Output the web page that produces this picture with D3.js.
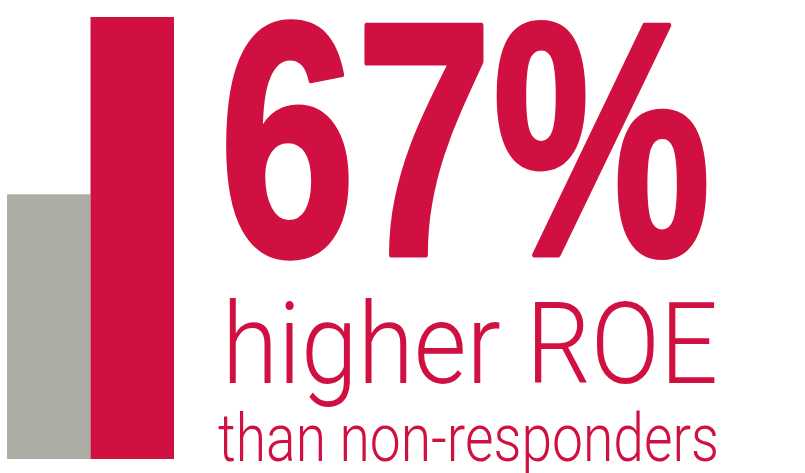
<!DOCTYPE html>
<html>
<head>
<meta charset="utf-8">
<script src="https://cdn.jsdelivr.net/npm/d3@7"></script>
<style>
  html, body { margin: 0; padding: 0; background: #fff; }
  svg { display: block; }
</style>
</head>
<body>
<svg id="chart" width="805" height="473"></svg>
<script>
// Relative ROE: non-responders indexed to 1, responders 67% higher
const categories = ["Non-responders", "Responders"];
const values = [1, 1.67];
const colors = ["#abaea5", "#d01040"];
const headline = "67%";
const subline1 = "higher ROE";
const subline2 = "than non-responders";

const svg = d3.select("#chart");

const x = d3.scaleBand()
  .domain(categories)
  .range([7, 174])
  .padding(0);

const y = d3.scaleLinear()
  .domain([0, d3.max(values)])
  .range([459, 17]);

svg.append("g")
  .selectAll("rect")
  .data(categories)
  .join("rect")
  .attr("x", d => x(d))
  .attr("width", x.bandwidth())
  .attr("y", (d, i) => y(values[i]))
  .attr("height", (d, i) => y(0) - y(values[i]))
  .attr("fill", (d, i) => colors[i]);

const red = colors[1];

// Heavy condensed headline: bold face squeezed to width, with a thin stroke for extra weight
svg.append("text")
  .attr("x", 219)
  .attr("y", 255)
  .attr("fill", red)
  .attr("stroke", red)
  .attr("stroke-width", 5)
  .attr("stroke-linejoin", "round")
  .attr("font-family", "'Liberation Sans', Arial, sans-serif")
  .attr("font-weight", 700)
  .attr("font-size", 334)
  .attr("textLength", 492)
  .attr("lengthAdjust", "spacingAndGlyphs")
  .text(headline);

svg.append("text")
  .attr("x", 222)
  .attr("y", 383)
  .attr("fill", red)
  .attr("font-family", "Roboto, 'Open Sans', sans-serif")
  .attr("font-weight", 300)
  .attr("font-size", 114)
  .attr("textLength", 496)
  .attr("lengthAdjust", "spacingAndGlyphs")
  .text(subline1);

svg.append("text")
  .attr("x", 218)
  .attr("y", 461)
  .attr("fill", red)
  .attr("font-family", "Roboto, 'Open Sans', sans-serif")
  .attr("font-weight", 300)
  .attr("font-size", 66)
  .attr("textLength", 501)
  .attr("lengthAdjust", "spacingAndGlyphs")
  .text(subline2);
</script>
</body>
</html>
